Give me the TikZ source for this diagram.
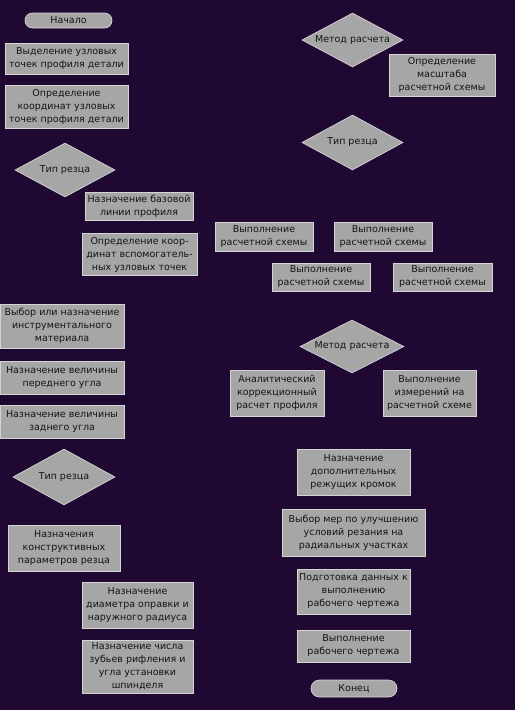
\documentclass[tikz,border=0pt]{standalone}
\usepackage{fontspec}
\setmainfont{DejaVu Sans}
\usepackage{tikz}
\usetikzlibrary{shapes.geometric}
\usetikzlibrary{shapes.misc}
\definecolor{fon}{HTML}{1F0933}
\definecolor{seryj}{HTML}{A6A6A6}
\definecolor{kraj}{HTML}{D4D4D4}
\definecolor{tekst}{HTML}{141414}
\tikzstyle{blok}=[draw=kraj, fill=seryj, line width=0.7pt, inner sep=0pt, align=center, text=tekst, font=\fontsize{9.5}{13}\selectfont]
\tikzstyle{romb}=[blok, diamond, aspect=1.9]
\tikzstyle{term}=[blok, rounded rectangle]

\begin{document}
\begin{tikzpicture}[x=1pt, y=-1pt]
        \fill[fon] (0,0) rectangle (515,710);
        \useasboundingbox (0,0) rectangle (515,710);
        % left column
        \node[term, minimum width=87pt, minimum height=15pt] (start) at (68.5, 20.5) {Начало};
        \node[blok, minimum width=123pt, minimum height=31pt] (uzly) at (66.5, 58.5) {Выделение узловых\\точек профиля детали};
        \node[blok, minimum width=123pt, minimum height=43pt] (koord) at (66.5, 106.5) {Определение\\координат узловых\\точек профиля детали};
        \node[romb, minimum width=100pt, minimum height=54pt] (tip1) at (65, 170) {Тип резца};
        \node[blok, minimum width=108pt, minimum height=28pt] (baza) at (139, 206) {Назначение базовой\\линии профиля};
        \node[blok, minimum width=115pt, minimum height=42pt] (vspom) at (139.5, 254.5) {Определение коор-\\динат вспомогатель-\\ных узловых точек};
        \node[blok, minimum width=124pt, minimum height=44pt] (mater) at (62, 326) {Выбор или назначение\\инструментального\\материала};
        \node[blok, minimum width=124pt, minimum height=33pt] (pered) at (62, 377.5) {Назначение величины\\переднего угла};
        \node[blok, minimum width=124pt, minimum height=33pt] (zadn) at (62, 421.5) {Назначение величины\\заднего угла};
        \node[romb, minimum width=102pt, minimum height=56pt] (tip2) at (64, 477) {Тип резца};
        \node[blok, minimum width=112pt, minimum height=46pt] (konstr) at (64, 548) {Назначения\\конструктивных\\параметров резца};
        \node[blok, minimum width=111pt, minimum height=46pt] (diam) at (137.5, 605) {Назначение\\диаметра оправки и\\наружного радиуса};
        \node[blok, minimum width=111pt, minimum height=53pt] (zuby) at (137.5, 666.5) {Назначение числа\\зубьев рифления и\\угла установки\\шпинделя};
        % right column
        \node[romb, minimum width=101pt, minimum height=54pt] (metod1) at (352.5, 40) {Метод расчета};
        \node[blok, minimum width=106pt, minimum height=42pt] (masht) at (442, 75) {Определение\\масштаба\\расчетной схемы};
        \node[romb, minimum width=101pt, minimum height=55pt] (tip3) at (352.5, 142.5) {Тип резца};
        \node[blok, minimum width=98pt, minimum height=29pt] (shema1) at (264, 236.5) {Выполнение\\расчетной схемы};
        \node[blok, minimum width=98pt, minimum height=29pt] (shema2) at (383, 236.5) {Выполнение\\расчетной схемы};
        \node[blok, minimum width=98pt, minimum height=28pt] (shema3) at (321, 277) {Выполнение\\расчетной схемы};
        \node[blok, minimum width=99pt, minimum height=28pt] (shema4) at (442.5, 277) {Выполнение\\расчетной схемы};
        \node[romb, minimum width=104pt, minimum height=53pt] (metod2) at (352, 346.5) {Метод расчета};
        \node[blok, minimum width=94pt, minimum height=46pt] (analit) at (277, 393) {Аналитический\\коррекционный\\расчет профиля};
        \node[blok, minimum width=93pt, minimum height=46pt] (izmer) at (429.5, 393) {Выполнение\\измерений на\\расчетной схеме};
        \node[blok, minimum width=113pt, minimum height=46pt] (kromki) at (353.5, 472) {Назначение\\дополнительных\\режущих кромок};
        \node[blok, minimum width=143pt, minimum height=47pt] (mery) at (353.5, 532.5) {Выбор мер по улучшению\\условий резания на\\радиальных участках};
        \node[blok, minimum width=113pt, minimum height=45pt] (podg) at (353.5, 591.5) {Подготовка данных к\\выполнению\\рабочего чертежа};
        \node[blok, minimum width=113pt, minimum height=32pt] (chert) at (353.5, 646) {Выполнение\\рабочего чертежа};
        \node[term, minimum width=86pt, minimum height=17pt] (konec) at (354, 688.5) {Конец};
    \end{tikzpicture}
\end{document}
